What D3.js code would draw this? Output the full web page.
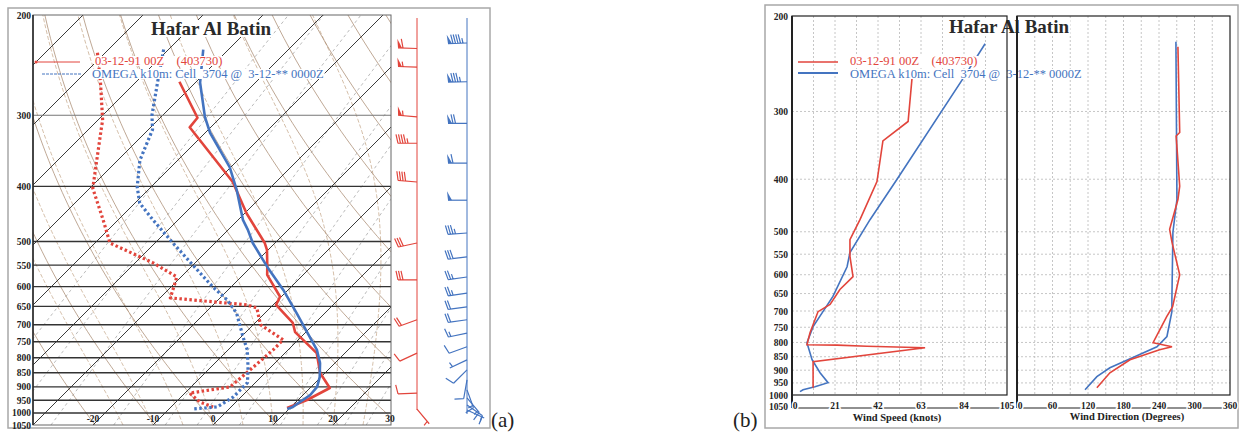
<!DOCTYPE html>
<html>
<head>
<meta charset="utf-8">
<script src="https://cdn.jsdelivr.net/npm/d3@7"></script>
<style>
  body { margin: 0; background: #fff; }
  svg { display: block; }
  text { font-family: "Liberation Serif", "DejaVu Serif", serif; }
</style>
</head>
<body>
<svg id="chart" width="1241" height="432"></svg>
<script>
"use strict";

// axes
var pressureTicks = [200, 300, 400, 500, 550, 600, 650, 700, 750, 800, 850, 900, 950, 1000, 1050];
var tempTicks = [-20, -10, 0, 10, 20, 30];
var speedTicks = [0, 21, 42, 63, 84, 105];
var dirTicks = [0, 60, 120, 180, 240, 300, 360];
var legendLabels = ["03-12-91 00Z    (403730)", "OMEGA k10m: Cell  3704 @  3-12-** 0000Z"];

// observed sounding (red)
var obsTempP = [262, 303, 315, 393, 446, 503, 517, 554, 572, 625, 646, 695, 721, 785, 851, 904, 949, 980];
var obsTemp  = [-62.8, -53.8, -53.5, -37.2, -29.7, -21.7, -20.2, -17.3, -16, -10.2, -9.5, -3.7, -1.8, 5.3, 9.2, 13.3, 11.5, 9.5];
var obsDewP  = [233, 263, 306, 315, 403, 458, 503, 545, 577, 608, 628, 646, 654, 700, 744, 775, 840, 900, 923, 957, 976];
var obsDew   = [-81.3, -75.8, -69.2, -68.2, -59.5, -52.5, -47.5, -37, -30.7, -29.2, -28.3, -14.3, -12.2, -8.8, -2.5, -2.5, -3, -3.5, -9.2, -6, -3];

// OMEGA model sounding (blue)
var omegaTempP = [230, 263, 302, 322, 370, 406, 458, 477, 503, 554, 608, 668, 775, 817, 865, 900, 930, 976, 984];
var omegaTemp  = [-64.2, -59.2, -52.7, -49.2, -40.2, -35.2, -29.2, -26.7, -23.7, -17.3, -10.8, -4.7, 4.8, 7.5, 9.8, 11, 11.2, 10.3, 9.7];
var omegaDewP  = [230, 263, 300, 318, 360, 401, 428, 458, 503, 550, 601, 633, 668, 735, 775, 831, 885, 938, 976, 984];
var omegaDew   = [-70.8, -66.3, -61.8, -59.3, -56.3, -52.3, -49.2, -44.2, -37, -30, -23, -18.5, -14.7, -9.7, -6.8, -3.8, -1.3, -1.3, -2.3, -6];

// wind speed (knots)
var obsSpeedP   = [261, 313, 340, 404, 475, 517, 555, 605, 639, 681, 702, 768, 808, 809, 813, 818, 868, 970];
var obsSpeed    = [58.6, 56.7, 44.4, 41.5, 33.2, 28.3, 28.3, 29.8, 23.4, 18.6, 12.7, 8.8, 7.3, 22, 36.6, 65, 10.3, 10.3];
var omegaSpeedP = [225, 261, 400, 475, 546, 580, 658, 748, 801, 861, 910, 949, 966, 978, 986];
var omegaSpeed  = [94.3, 83.5, 51.3, 38.1, 28.3, 26.9, 20, 10.3, 7.3, 9.8, 13.7, 17.6, 11.2, 5.4, 3.9];

// wind direction (degrees)
var obsDirP   = [228, 328, 333, 412, 436, 495, 523, 600, 687, 717, 801, 815, 825, 861, 910, 970];
var obsDir    = [272, 275, 269, 275, 272, 258, 262, 275, 263, 253, 230, 262, 241, 191, 157, 135];
var omegaDirP = [223, 436, 501, 667, 702, 780, 815, 853, 891, 925, 978];
var omegaDir  = [268.6, 270.3, 263.5, 261.8, 261.8, 253.4, 236.5, 196, 157, 135, 115];

// wind barbs beside the skew-T
var obsBarbP     = [229, 247, 302, 336, 393, 503, 584, 686, 785, 923, 985];
var obsBarbSpd   = [60, 55, 57, 45, 42, 30, 28, 18, 9, 10, 5];
var obsBarbDir   = [272, 272, 275, 270, 275, 258, 270, 250, 245, 268, 140];
var omegaBarbP   = [224, 262, 310, 364, 423, 483, 532, 577, 616, 651, 686, 724, 765, 807, 840, 875, 911, 941, 968, 988];
var omegaBarbSpd = [95, 83, 72, 60, 48, 37, 30, 27, 25, 22, 18, 14, 10, 7, 8, 10, 13, 16, 12, 5];
var omegaBarbDir = [268, 269, 270, 270, 270, 266, 263, 262, 262, 262, 262, 258, 250, 245, 225, 190, 160, 140, 125, 115];

var RED = "#e2453c", BLUE = "#4474c0";

var svg = d3.select("#chart");

function zip(ps, vs) { return ps.map(function(p, i){ return {p: p, v: vs[i]}; }); }

// white box behind the glyphs of a text node
function boxed(g, node) {
    var b = node.getBBox();
    g.insert("rect", function(){ return node; })
        .attr("x", b.x - 1).attr("y", b.y + 2)
        .attr("width", b.width + 2).attr("height", b.height - 4)
        .attr("fill", "#fff");
}

/* ---------------- (a) skew-T ---------------- */
var A = {left: 33, right: 391, top: 15, bottom: 425};
var yA = d3.scaleLog().domain([200, 1050]).range([A.top, A.bottom]);
var tA = d3.scaleLinear().domain([-30, 30]).range([33, 393]);
function sx(T, p) { return tA(T) + (A.bottom - yA(p)); }

svg.append("rect").attr("x", 8).attr("y", 8).attr("width", 482).attr("height", 420)
    .attr("fill", "none").attr("stroke", "#a8a8a8").attr("stroke-width", 1.5);

svg.append("clipPath").attr("id", "clipA").append("rect")
    .attr("x", A.left).attr("y", A.top).attr("width", A.right - A.left).attr("height", A.bottom - A.top);

var gA = svg.append("g").attr("clip-path", "url(#clipA)");

var levels = d3.range(1050, 195, -10);
var skewLine = d3.line().x(function(d){ return sx(d.t, d.p); }).y(function(d){ return yA(d.p); });

// mixing ratio lines
[0.1, 0.2, 0.4, 1, 2, 3, 5, 8, 12, 16, 20].forEach(function(w){
    var pts = levels.map(function(p){
        var e = (w / 1000) * p / (0.622 + w / 1000), l = Math.log(e / 6.112);
        return {p: p, t: 243.5 * l / (17.67 - l)};
    });
    gA.append("path").attr("d", skewLine(pts)).attr("fill", "none")
        .attr("stroke", "#a8a8a8").attr("stroke-width", 0.8).attr("stroke-dasharray", "3,3");
});

// moist adiabats
function satMix(T, p) { var es = 6.112 * Math.exp(17.67 * T / (T + 243.5)); return 0.622 * es / (p - es); }
d3.range(-15, 45, 5).forEach(function(t0){
    var t = t0, pts = [];
    for (var p = 1050; p >= 200; p -= 5) {
        pts.push({p: p, t: t});
        var tk = t + 273.15, rs = satMix(t, p);
        var dtdp = (287 * tk + 2.5e6 * rs) / (1004 + 2.5e6 * 2.5e6 * rs * 0.622 / (287 * tk * tk)) / p;
        t -= dtdp * 5;
    }
    gA.append("path").attr("d", skewLine(pts)).attr("fill", "none")
        .attr("stroke", "#c9ad92").attr("stroke-width", 0.8).attr("stroke-dasharray", "4,2");
});

// dry adiabats
d3.range(250, 480, 10).forEach(function(th){
    var pts = levels.map(function(p){ return {p: p, t: th * Math.pow(p / 1000, 0.2857) - 273.15}; });
    gA.append("path").attr("d", skewLine(pts)).attr("fill", "none")
        .attr("stroke", "#a98b72").attr("stroke-width", 0.75);
});

// isotherms
d3.range(-130, 40, 10).forEach(function(t){
    gA.append("line")
        .attr("x1", sx(t, 1050)).attr("y1", yA(1050))
        .attr("x2", sx(t, 200)).attr("y2", yA(200))
        .attr("stroke", "#262626").attr("stroke-width", 0.9);
});

// isobars
gA.selectAll(".isobar").data(pressureTicks.slice(1, -1)).enter().append("line")
    .attr("x1", A.left).attr("x2", A.right)
    .attr("y1", function(d){ return yA(d); }).attr("y2", function(d){ return yA(d); })
    .attr("stroke", function(d){ return d < 400 ? "#777" : "#333"; })
    .attr("stroke-width", function(d){ return d < 400 ? 1 : 1.4; });

// profiles
var profLine = d3.line().x(function(d){ return sx(d.v, d.p); }).y(function(d){ return yA(d.p); });
[
    {data: zip(obsDewP, obsDew), color: RED, dash: "2.5,2.5"},
    {data: zip(omegaDewP, omegaDew), color: BLUE, dash: "2.5,2.5"},
    {data: zip(obsTempP, obsTemp), color: RED, dash: null},
    {data: zip(omegaTempP, omegaTemp), color: BLUE, dash: null}
].forEach(function(s){
    gA.append("path").attr("d", profLine(s.data)).attr("fill", "none")
        .attr("stroke", s.color).attr("stroke-width", s.dash ? 3.2 : 2.6)
        .attr("stroke-dasharray", s.dash).attr("stroke-linejoin", "round");
});

// legend (a)
var legA = svg.append("g");
[0, 1].forEach(function(i){
    var t = legA.append("text").attr("x", i ? 92 : 95).attr("y", i ? 78 : 65)
        .attr("font-size", 12.5).attr("fill", i ? BLUE : RED)
        .style("white-space", "pre").text(legendLabels[i]);
    boxed(legA, t.node());
});
legA.append("line").attr("x1", 36).attr("x2", 80).attr("y1", 62).attr("y2", 62)
    .attr("stroke", RED).attr("stroke-width", 1);
legA.append("circle").attr("cx", 36).attr("cy", 62).attr("r", 1.5).attr("fill", RED);
legA.append("line").attr("x1", 42).attr("x2", 82).attr("y1", 74).attr("y2", 74)
    .attr("stroke", BLUE).attr("stroke-width", 1).attr("stroke-dasharray", "3,1");

var titleA = svg.append("text").attr("x", 211).attr("y", 35).attr("text-anchor", "middle")
    .attr("font-size", 19).attr("font-weight", "bold").attr("fill", "#2a2a2a").text("Hafar Al Batin");
boxed(svg, titleA.node());

svg.append("rect").attr("x", A.left).attr("y", A.top)
    .attr("width", A.right - A.left).attr("height", A.bottom - A.top)
    .attr("fill", "none").attr("stroke", "#666").attr("stroke-width", 1);
svg.append("line").attr("x1", A.left).attr("x2", A.left).attr("y1", A.top).attr("y2", A.bottom)
    .attr("stroke", "#222").attr("stroke-width", 1.5);

// labels (a)
svg.append("g").selectAll("text").data(pressureTicks).enter().append("text")
    .attr("x", 31).attr("y", function(d){ return yA(d) + 3.5; })
    .attr("text-anchor", "end").attr("font-size", 9.5).attr("font-weight", "bold").attr("fill", "#222")
    .text(function(d){ return d; });
svg.append("g").selectAll("text").data(tempTicks).enter().append("text")
    .attr("x", function(d){ return d === 30 ? tA(d) - 3 : tA(d); }).attr("y", 422)
    .attr("text-anchor", "middle").attr("font-size", 9.5).attr("font-weight", "bold").attr("fill", "#222")
    .text(function(d){ return d; });

// wind barbs
function drawBarb(g, x, y, spd, dir, len, color) {
    var r = dir * Math.PI / 180, ux = Math.sin(r), uy = -Math.cos(r);
    var fx = -uy, fy = ux;
    var P = function(t){ return [x + ux * t, y + uy * t]; };
    var d = "M" + x + "," + y + "L" + P(len);
    var rest = Math.round(spd / 5) * 5, t = len, a;
    while (rest >= 50) {
        a = P(t);
        g.append("path").attr("fill", color)
            .attr("d", "M" + a + "L" + [a[0] + fx * 9 + ux, a[1] + fy * 9 + uy] + "L" + P(t - 4) + "Z");
        t -= 5; rest -= 50;
    }
    while (rest >= 10) {
        a = P(t);
        d += "M" + a + "L" + [a[0] + fx * 9 + ux * 2, a[1] + fy * 9 + uy * 2];
        t -= 2.5; rest -= 10;
    }
    if (rest >= 5) {
        if (t === len) t -= 3;
        a = P(t);
        d += "M" + a + "L" + [a[0] + fx * 5 + ux, a[1] + fy * 5 + uy];
    }
    g.append("path").attr("d", d).attr("fill", "none").attr("stroke", color).attr("stroke-width", 1.2);
}

var gBarb = svg.append("g");
[
    {x: 417, p: obsBarbP, s: obsBarbSpd, d: obsBarbDir, color: RED, y2: 410},
    {x: 467, p: omegaBarbP, s: omegaBarbSpd, d: omegaBarbDir, color: BLUE, y2: 414}
].forEach(function(c){
    gBarb.append("line").attr("x1", c.x).attr("x2", c.x).attr("y1", 18).attr("y2", c.y2)
        .attr("stroke", c.color).attr("stroke-width", 1);
    c.p.forEach(function(p, i){ drawBarb(gBarb, c.x, yA(p), c.s[i], c.d[i], 19, c.color); });
});

svg.append("text").attr("x", 491).attr("y", 427).attr("font-size", 21).attr("fill", "#222").text("(a)");

/* ---------------- (b) wind profiles ---------------- */
var B = {top: 16, bottom: 395, axis: 408};
var yB = d3.scaleLog().domain([200, 1000]).range([B.top, B.bottom]);
var xSpd = d3.scaleLinear().domain([0, 105]).range([792, 1007]);
var xDir = d3.scaleLinear().domain([0, 360]).range([1017, 1230]);

svg.append("rect").attr("x", 765).attr("y", 5).attr("width", 473).attr("height", 423)
    .attr("fill", "none").attr("stroke", "#a8a8a8").attr("stroke-width", 1.5);

var gB = svg.append("g");
var gridP = pressureTicks.slice(1, -2);

[{x: xSpd, step: 10.5}, {x: xDir, step: 30}].forEach(function(pan){
    var dom = pan.x.domain(), r = pan.x.range();
    gB.append("g").selectAll("line").data(d3.range(dom[0] + pan.step, dom[1] - 0.1, pan.step)).enter().append("line")
        .attr("x1", function(d){ return pan.x(d); }).attr("x2", function(d){ return pan.x(d); })
        .attr("y1", B.top).attr("y2", B.bottom)
        .attr("stroke", "#b8b8b8").attr("stroke-width", 0.8).attr("stroke-dasharray", "2,2");
    gB.append("g").selectAll("line").data(gridP).enter().append("line")
        .attr("x1", r[0]).attr("x2", r[1])
        .attr("y1", function(d){ return yB(d); }).attr("y2", function(d){ return yB(d); })
        .attr("stroke", "#b8b8b8").attr("stroke-width", 0.8).attr("stroke-dasharray", "2,2");
});

svg.append("clipPath").attr("id", "clipS").append("rect")
    .attr("x", 792).attr("y", B.top).attr("width", 215).attr("height", B.bottom - B.top);
svg.append("clipPath").attr("id", "clipD").append("rect")
    .attr("x", 1017).attr("y", B.top).attr("width", 213).attr("height", B.bottom - B.top);

var spdLine = d3.line().x(function(d){ return xSpd(d.v); }).y(function(d){ return yB(d.p); });
var dirLine = d3.line().x(function(d){ return xDir(d.v); }).y(function(d){ return yB(d.p); });

var gS = svg.append("g").attr("clip-path", "url(#clipS)");
gS.append("path").attr("d", spdLine(zip(omegaSpeedP, omegaSpeed))).attr("fill", "none")
    .attr("stroke", BLUE).attr("stroke-width", 1.6);
gS.append("path").attr("d", spdLine(zip(obsSpeedP, obsSpeed))).attr("fill", "none")
    .attr("stroke", RED).attr("stroke-width", 1.6);

var gD = svg.append("g").attr("clip-path", "url(#clipD)");
gD.append("path").attr("d", dirLine(zip(omegaDirP, omegaDir))).attr("fill", "none")
    .attr("stroke", BLUE).attr("stroke-width", 1.6);
gD.append("path").attr("d", dirLine(zip(obsDirP, obsDir))).attr("fill", "none")
    .attr("stroke", RED).attr("stroke-width", 1.6);

// legend (b)
var legB = svg.append("g");
[0, 1].forEach(function(i){
    var t = legB.append("text").attr("x", 850).attr("y", i ? 78 : 65)
        .attr("font-size", 12.5).attr("fill", i ? BLUE : RED)
        .style("white-space", "pre").text(legendLabels[i]);
    boxed(legB, t.node());
});
legB.append("line").attr("x1", 798).attr("x2", 838).attr("y1", 62).attr("y2", 62)
    .attr("stroke", RED).attr("stroke-width", 1.5);
legB.append("line").attr("x1", 798).attr("x2", 838).attr("y1", 73).attr("y2", 73)
    .attr("stroke", BLUE).attr("stroke-width", 2);

var titleB = svg.append("text").attr("x", 1009).attr("y", 33).attr("text-anchor", "middle")
    .attr("font-size", 19).attr("font-weight", "bold").attr("fill", "#2a2a2a").text("Hafar Al Batin");
boxed(svg, titleB.node());

// frames and axes (b)
[xSpd, xDir].forEach(function(x){
    var r = x.range();
    svg.append("rect").attr("x", r[0]).attr("y", B.top).attr("width", r[1] - r[0]).attr("height", B.bottom - B.top)
        .attr("fill", "none").attr("stroke", "#222").attr("stroke-width", 1.2);
    svg.append("line").attr("x1", r[0]).attr("x2", r[0]).attr("y1", B.top).attr("y2", B.axis)
        .attr("stroke", "#222").attr("stroke-width", 2);
    svg.append("line").attr("x1", r[0]).attr("x2", r[1]).attr("y1", B.axis).attr("y2", B.axis)
        .attr("stroke", "#222").attr("stroke-width", 1.2);
});

svg.append("g").selectAll("text").data(pressureTicks).enter().append("text")
    .attr("x", 788).attr("y", function(d){ return yB(d) + 3.5; })
    .attr("text-anchor", "end").attr("font-size", 9.5).attr("font-weight", "bold").attr("fill", "#222")
    .text(function(d){ return d; });

[{x: xSpd, ticks: speedTicks}, {x: xDir, ticks: dirTicks}].forEach(function(ax){
    svg.append("g").selectAll("text").data(ax.ticks).enter().append("text")
        .attr("x", function(d){ return ax.x(d) + (d === 0 ? 3 : 0); }).attr("y", 409)
        .attr("text-anchor", "middle").attr("font-size", 9.5).attr("font-weight", "bold").attr("fill", "#222")
        .attr("stroke", "#fff").attr("stroke-width", 3).attr("paint-order", "stroke")
        .text(function(d){ return d; });
});

svg.append("text").attr("x", 897).attr("y", 421).attr("text-anchor", "middle")
    .attr("font-size", 10.5).attr("font-weight", "bold").attr("fill", "#222").text("Wind Speed (knots)");
svg.append("text").attr("x", 1127).attr("y", 420).attr("text-anchor", "middle")
    .attr("font-size", 10.5).attr("font-weight", "bold").attr("fill", "#222").text("Wind Direction (Degrees)");

svg.append("text").attr("x", 733).attr("y", 427).attr("font-size", 21).attr("fill", "#222").text("(b)");
</script>
</body>
</html>
